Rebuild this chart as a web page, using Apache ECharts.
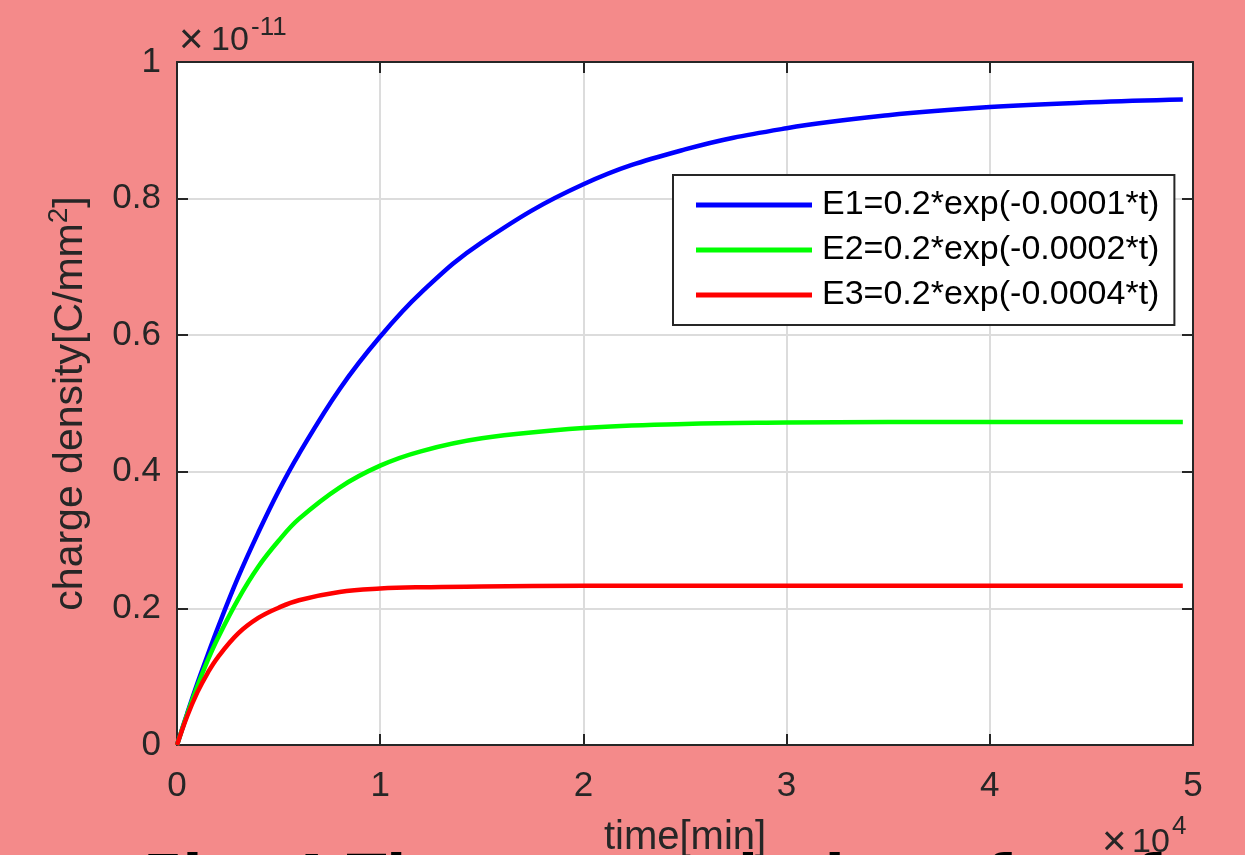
<!DOCTYPE html>
<html>
<head>
<meta charset="utf-8">
<title>charge density</title>
<script src="https://cdn.jsdelivr.net/npm/echarts@6/dist/echarts.min.js"></script>
<style>
  html, body { margin: 0; padding: 0; background: #f48a8a; }
  #main { width: 1245px; height: 855px; }
</style>
</head>
<body>
<div id="main"></div>
<script>
// time in minutes, charge density in units of 1e-11 C/mm^2
const timeMin = [0, 500, 1000, 1500, 2000, 3000, 4000, 5000, 6000, 8000, 10000, 12000, 15000, 20000, 25000, 30000, 35000, 40000, 45000, 49500]
const chargeE1 = [0, 0.046, 0.090, 0.131, 0.171, 0.245, 0.311, 0.372, 0.426, 0.521, 0.598, 0.662, 0.736, 0.821, 0.872, 0.903, 0.922, 0.934, 0.941, 0.945]
const chargeE2 = [0, 0.045, 0.086, 0.123, 0.156, 0.213, 0.261, 0.299, 0.331, 0.377, 0.409, 0.430, 0.449, 0.464, 0.470, 0.472, 0.473, 0.473, 0.473, 0.473]
const chargeE3 = [0, 0.042, 0.077, 0.105, 0.128, 0.163, 0.186, 0.201, 0.212, 0.224, 0.229, 0.231, 0.232, 0.233, 0.233, 0.233, 0.233, 0.233, 0.233, 0.233]
const seriesNames = ['E1=0.2*exp(-0.0001*t)', 'E2=0.2*exp(-0.0002*t)', 'E3=0.2*exp(-0.0004*t)']
const xTicks = [0, 10000, 20000, 30000, 40000, 50000]

const font = 'Liberation Sans, Arial, Helvetica, sans-serif'
const ink = '#262626'

const pair = ys => timeMin.map((t, i) => [t, ys[i]])

const boxAxis = {
  axisLine: { show: true, onZero: false, lineStyle: { color: ink, width: 2 } },
  axisTick: { show: true, inside: true, length: 11, lineStyle: { color: ink, width: 2 } }
}

const myChart = echarts.init(document.getElementById('main'))
myChart.setOption({
  backgroundColor: '#f48a8a',
  animation: false,
  color: ['#0000ff', '#00ff00', '#ff0000'],
  grid: {
    left: 177, right: 52, top: 62, bottom: 110,
    outerBoundsMode: 'none', containLabel: false,
    show: true, backgroundColor: '#ffffff', borderWidth: 0
  },
  legend: {
    orient: 'vertical',
    left: 673,
    top: 175,
    padding: [13, 15, 13, 23],
    itemGap: 11,
    itemWidth: 116,
    itemHeight: 5,
    icon: 'rect',
    backgroundColor: '#ffffff',
    borderColor: ink,
    borderWidth: 2,
    borderRadius: 0,
    textStyle: { fontFamily: font, fontSize: 34, color: '#000000', lineHeight: 34, padding: [0, 0, 0, 5] },
    data: seriesNames
  },
  xAxis: [
    Object.assign({
      type: 'value', min: 0, max: xTicks[xTicks.length - 1], interval: xTicks[1] - xTicks[0],
      position: 'bottom',
      axisLabel: { formatter: v => v / 10000, fontFamily: font, fontSize: 35, color: ink, margin: 24 },
      splitLine: { show: true, lineStyle: { color: '#dcdcdc', width: 2 } },
      name: 'time[min]', nameLocation: 'middle', nameGap: 73,
      nameTextStyle: { fontFamily: font, fontSize: 40, color: ink }
    }, boxAxis),
    Object.assign({
      type: 'value', min: 0, max: xTicks[xTicks.length - 1], interval: xTicks[1] - xTicks[0],
      position: 'top',
      axisLabel: { show: false }, splitLine: { show: false }
    }, boxAxis)
  ],
  yAxis: [
    Object.assign({
      type: 'value', min: 0, max: 1, interval: 0.2,
      position: 'left',
      axisLabel: { fontFamily: font, fontSize: 35, color: ink, margin: 16 },
      splitLine: { show: true, lineStyle: { color: '#dcdcdc', width: 2 } },
      name: 'charge density[C/mm{sup|2}]', nameLocation: 'middle', nameGap: 80,
      nameTextStyle: {
        fontFamily: font, fontSize: 41, color: ink,
        rich: { sup: { fontFamily: font, fontSize: 28, color: ink, padding: [0, 0, 24, 0] } }
      }
    }, boxAxis),
    Object.assign({
      type: 'value', min: 0, max: 1, interval: 0.2,
      position: 'right',
      axisLabel: { show: false }, splitLine: { show: false }
    }, boxAxis)
  ],
  graphic: [
    { type: 'text', left: 179, top: 20, style: { text: '×', font: '42px ' + font, fill: ink } },
    { type: 'text', left: 211, top: 24, style: { text: '10', font: '34px ' + font, fill: ink } },
    { type: 'text', left: 251, top: 15, style: { text: '-11', font: '26px ' + font, fill: ink } },
    { type: 'text', left: 1102, top: 822, style: { text: '×', font: '42px ' + font, fill: ink } },
    { type: 'text', left: 1132, top: 826, style: { text: '10', font: '34px ' + font, fill: ink } },
    { type: 'text', left: 1172, top: 814, style: { text: '4', font: '26px ' + font, fill: ink } },
    { type: 'text', x: 143, y: 853, z: 100, style: { text: 'Fig. 4 The accumulation of surface charge', font: "bold 58px 'DejaVu Sans', sans-serif", fill: '#000000', verticalAlign: 'top' } }
  ],
  series: [
    { name: seriesNames[0], type: 'line', data: pair(chargeE1), symbol: 'none', smooth: 0.4, lineStyle: { width: 4.5 } },
    { name: seriesNames[1], type: 'line', data: pair(chargeE2), symbol: 'none', smooth: 0.4, lineStyle: { width: 4.5 } },
    { name: seriesNames[2], type: 'line', data: pair(chargeE3), symbol: 'none', smooth: 0.4, lineStyle: { width: 4.5 } }
  ]
})
</script>
</body>
</html>
